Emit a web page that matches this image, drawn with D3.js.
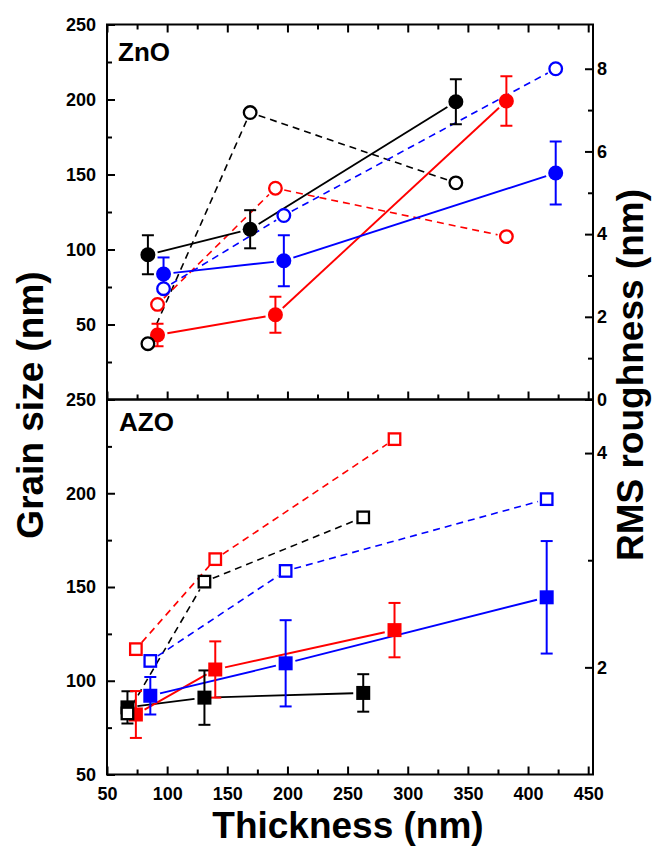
<!DOCTYPE html>
<html>
<head>
<meta charset="utf-8">
<script src="https://cdn.jsdelivr.net/npm/d3@7"></script>
<style>
  body { margin: 0; background: #fff; }
  text { font-family: "Liberation Sans", Arial, sans-serif; font-weight: bold; }
</style>
</head>
<body>
<div id="chart"></div>
<script>
// ZnO: thickness (nm) per series
const znoThickBlack = [84, 169, 340];
const znoThickRed = [92, 190, 382];
const znoThickBlue = [97, 197, 423];
// ZnO grain size (nm) and error
const znoGrainBlack = [96.5, 113.5, 198.5];
const znoErrBlack = [13, 12.7, 15];
const znoGrainRed = [43, 56.5, 199];
const znoErrRed = [7.5, 12, 16.5];
const znoGrainBlue = [83.7, 92.5, 151];
const znoErrBlue = [11, 17, 21];
// ZnO RMS roughness (nm)
const znoRmsBlack = [1.35, 6.94, 5.24];
const znoRmsRed = [2.3, 5.11, 3.94];
const znoRmsBlue = [2.68, 4.45, 8.0];

// AZO
const azoThickBlack = [67, 131, 263];
const azoThickRed = [74, 140, 289];
const azoThickBlue = [86, 198.5, 415.5];
const azoGrainBlack = [85.8, 91, 93.5];
const azoErrBlack = [8.6, 14.5, 10];
const azoGrainRed = [82, 106, 127];
const azoErrRed = [12.5, 15, 14.5];
const azoGrainBlue = [92, 109.3, 144.5];
const azoErrBlue = [10, 23, 30];
const azoRmsBlack = [1.57, 2.8, 3.4];
const azoRmsRed = [2.17, 3.01, 4.13];
const azoRmsBlue = [2.06, 2.9, 3.57];

// tick values
const xMajor = [50, 100, 150, 200, 250, 300, 350, 400, 450];
const xMinor = [75, 125, 175, 225, 275, 325, 375, 425];
const topLeftMajor = [50, 100, 150, 200, 250];
const topLeftMinor = [25, 75, 125, 175, 225];
const topRightMajor = [0, 2, 4, 6, 8];
const topRightMinor = [1, 3, 5, 7];
const botLeftMajor = [50, 100, 150, 200, 250];
const botLeftMinor = [75, 125, 175, 225];
const botRightMajor = [2, 4];
const botRightMinor = [3];

const colors = { black: "#000000", red: "#ff0000", blue: "#0000ff" };

const W = 652, H = 865;
const pLeft = 107, pRight = 593, pTop = 24.5, pMid = 399.5, pBottom = 774.5;

const svg = d3.select("#chart").append("svg")
  .attr("width", W).attr("height", H);

const x = d3.scaleLinear().domain([50, 454]).range([pLeft, pRight]);
const yTopL = d3.scaleLinear().domain([0, 250]).range([pMid, pTop]);
const yTopR = d3.scaleLinear().domain([0, 9.07]).range([pMid, pTop]);
const yBotL = d3.scaleLinear().domain([50, 250]).range([pBottom, pMid]);
const yBotR = d3.scaleLinear().domain([1, 4.5]).range([pBottom, pMid]);

// axes helper
function addAxis(axisFn, scale, values, size, pos, showLabels, pad) {
  const ax = axisFn(scale).tickValues(values).tickSizeInner(size).tickSizeOuter(0)
    .tickPadding(pad || 6)
    .tickFormat(showLabels ? d3.format("d") : "");
  const g = svg.append("g").attr("transform", pos).call(ax);
  g.select(".domain").remove();
  g.selectAll(".tick line").attr("stroke", "#000").attr("stroke-width", 2);
  g.selectAll(".tick text").attr("fill", "#000").style("font-size", "18px")
    .style("font-family", "'Liberation Sans', Arial, sans-serif").style("font-weight", "bold");
  return g;
}

// top panel x ticks (top edge and divider), no labels
addAxis(d3.axisTop, x, xMajor, -8, `translate(0,${pTop})`, false);
addAxis(d3.axisTop, x, xMinor, -5, `translate(0,${pTop})`, false);
addAxis(d3.axisBottom, x, xMajor, -8, `translate(0,${pMid})`, false);
addAxis(d3.axisBottom, x, xMinor, -5, `translate(0,${pMid})`, false);
// bottom panel x axis
addAxis(d3.axisBottom, x, xMajor, -8, `translate(0,${pBottom})`, true, 13);
addAxis(d3.axisBottom, x, xMinor, -5, `translate(0,${pBottom})`, false);

// left axes
addAxis(d3.axisLeft, yTopL, topLeftMajor, -8, `translate(${pLeft},0)`, true, 11);
addAxis(d3.axisLeft, yTopL, topLeftMinor, -5, `translate(${pLeft},0)`, false);
addAxis(d3.axisLeft, yBotL, botLeftMajor, -8, `translate(${pLeft},0)`, true, 11);
addAxis(d3.axisLeft, yBotL, botLeftMinor, -5, `translate(${pLeft},0)`, false);

// right axes
addAxis(d3.axisRight, yTopR, topRightMajor, -8, `translate(${pRight},0)`, true, 4);
addAxis(d3.axisRight, yTopR, topRightMinor, -5, `translate(${pRight},0)`, false);
addAxis(d3.axisRight, yBotR, botRightMajor, -8, `translate(${pRight},0)`, true, 4);
addAxis(d3.axisRight, yBotR, botRightMinor, -5, `translate(${pRight},0)`, false);

// frames
svg.append("rect").attr("x", pLeft).attr("y", pTop)
  .attr("width", pRight - pLeft).attr("height", pMid - pTop)
  .attr("fill", "none").attr("stroke", "#000").attr("stroke-width", 2);
svg.append("rect").attr("x", pLeft).attr("y", pMid)
  .attr("width", pRight - pLeft).attr("height", pBottom - pMid)
  .attr("fill", "none").attr("stroke", "#000").attr("stroke-width", 2);

// line segments with a gap round each marker (Origin style)
function drawLine(xs, ys, yScale, color, dashed, gap) {
  const pts = xs.map((v, i) => [x(v), yScale(ys[i])]);
  for (let i = 0; i < pts.length - 1; i++) {
    const [x1, y1] = pts[i], [x2, y2] = pts[i + 1];
    const len = Math.hypot(x2 - x1, y2 - y1);
    const ux = (x2 - x1) / len, uy = (y2 - y1) / len;
    svg.append("line")
      .attr("x1", x1 + ux * gap).attr("y1", y1 + uy * gap)
      .attr("x2", x2 - ux * gap).attr("y2", y2 - uy * gap)
      .attr("stroke", color)
      .attr("stroke-width", dashed ? 1.6 : 1.9)
      .attr("stroke-dasharray", dashed ? "7,5" : null);
  }
}

function drawErrors(xs, ys, errs, yScale, color) {
  const g = svg.append("g").attr("stroke", color).attr("stroke-width", 2);
  xs.forEach((v, i) => {
    const cx = x(v), y0 = yScale(ys[i] - errs[i]), y1 = yScale(ys[i] + errs[i]);
    g.append("line").attr("x1", cx).attr("x2", cx).attr("y1", y0).attr("y2", y1);
    g.append("line").attr("x1", cx - 6).attr("x2", cx + 6).attr("y1", y0).attr("y2", y0);
    g.append("line").attr("x1", cx - 6).attr("x2", cx + 6).attr("y1", y1).attr("y2", y1);
  });
}

function drawCircles(xs, ys, yScale, color, filled) {
  svg.append("g").selectAll("circle")
    .data(xs.map((v, i) => [v, ys[i]]))
    .join("circle")
    .attr("cx", d => x(d[0])).attr("cy", d => yScale(d[1]))
    .attr("r", filled ? 7.5 : 6.3)
    .attr("fill", filled ? color : "#fff")
    .attr("stroke", color).attr("stroke-width", filled ? 0 : 2.3);
}

function drawSquares(xs, ys, yScale, color, filled) {
  const s = filled ? 14 : 11.5;
  svg.append("g").selectAll("rect")
    .data(xs.map((v, i) => [v, ys[i]]))
    .join("rect")
    .attr("x", d => x(d[0]) - s / 2).attr("y", d => yScale(d[1]) - s / 2)
    .attr("width", s).attr("height", s)
    .attr("fill", filled ? color : "#fff")
    .attr("stroke", color).attr("stroke-width", filled ? 0 : 2.3);
}

// ZnO panel
drawLine(znoThickBlack, znoRmsBlack, yTopR, colors.black, true, 9);
drawLine(znoThickRed, znoRmsRed, yTopR, colors.red, true, 9);
drawLine(znoThickBlue, znoRmsBlue, yTopR, colors.blue, true, 9);
drawLine(znoThickBlack, znoGrainBlack, yTopL, colors.black, false, 10);
drawLine(znoThickRed, znoGrainRed, yTopL, colors.red, false, 10);
drawLine(znoThickBlue, znoGrainBlue, yTopL, colors.blue, false, 10);
drawErrors(znoThickBlack, znoGrainBlack, znoErrBlack, yTopL, colors.black);
drawErrors(znoThickRed, znoGrainRed, znoErrRed, yTopL, colors.red);
drawErrors(znoThickBlue, znoGrainBlue, znoErrBlue, yTopL, colors.blue);
drawCircles(znoThickBlack, znoGrainBlack, yTopL, colors.black, true);
drawCircles(znoThickRed, znoGrainRed, yTopL, colors.red, true);
drawCircles(znoThickBlue, znoGrainBlue, yTopL, colors.blue, true);
drawCircles(znoThickBlack, znoRmsBlack, yTopR, colors.black, false);
drawCircles(znoThickRed, znoRmsRed, yTopR, colors.red, false);
drawCircles(znoThickBlue, znoRmsBlue, yTopR, colors.blue, false);

// AZO panel
drawLine(azoThickBlack, azoRmsBlack, yBotR, colors.black, true, 9);
drawLine(azoThickRed, azoRmsRed, yBotR, colors.red, true, 9);
drawLine(azoThickBlue, azoRmsBlue, yBotR, colors.blue, true, 9);
drawLine(azoThickBlack, azoGrainBlack, yBotL, colors.black, false, 10);
drawLine(azoThickRed, azoGrainRed, yBotL, colors.red, false, 10);
drawLine(azoThickBlue, azoGrainBlue, yBotL, colors.blue, false, 10);
drawErrors(azoThickBlack, azoGrainBlack, azoErrBlack, yBotL, colors.black);
drawErrors(azoThickRed, azoGrainRed, azoErrRed, yBotL, colors.red);
drawErrors(azoThickBlue, azoGrainBlue, azoErrBlue, yBotL, colors.blue);
drawSquares(azoThickBlack, azoGrainBlack, yBotL, colors.black, true);
drawSquares(azoThickRed, azoGrainRed, yBotL, colors.red, true);
drawSquares(azoThickBlue, azoGrainBlue, yBotL, colors.blue, true);
drawSquares(azoThickBlack, azoRmsBlack, yBotR, colors.black, false);
drawSquares(azoThickRed, azoRmsRed, yBotR, colors.red, false);
drawSquares(azoThickBlue, azoRmsBlue, yBotR, colors.blue, false);

// panel labels
svg.append("text").attr("x", 118).attr("y", 61).style("font-size", "26px").text("ZnO");
svg.append("text").attr("x", 119).attr("y", 431).style("font-size", "26px").text("AZO");

// axis titles
svg.append("text")
  .attr("transform", "translate(43,405) rotate(-90)")
  .attr("text-anchor", "middle").style("font-size", "37px")
  .text("Grain size (nm)");
svg.append("text")
  .attr("transform", "translate(643,375) rotate(-90)")
  .attr("text-anchor", "middle").style("font-size", "37px")
  .text("RMS roughness (nm)");
svg.append("text")
  .attr("x", 348).attr("y", 838)
  .attr("text-anchor", "middle").style("font-size", "37px")
  .text("Thickness (nm)");
</script>
</body>
</html>
